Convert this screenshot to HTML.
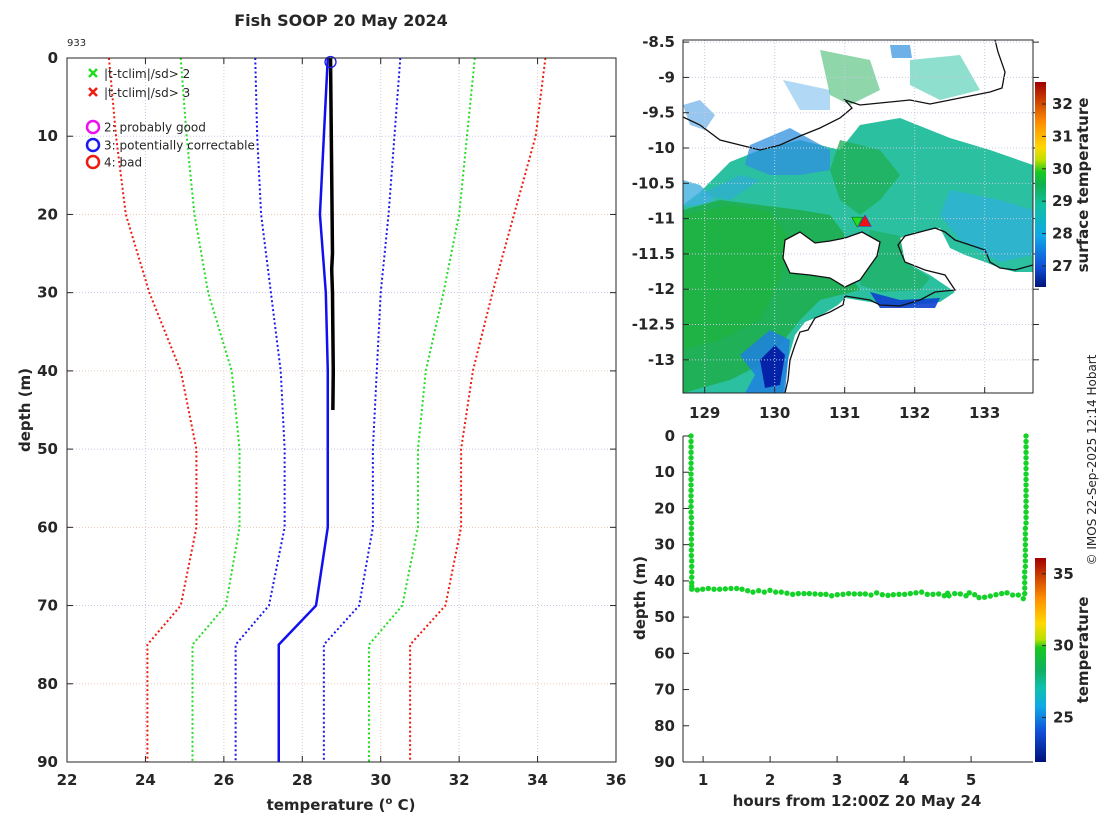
<!DOCTYPE html>
<html><head><meta charset="utf-8">
<style>
html,body{margin:0;padding:0;background:#fff;}
svg text{font-family:"DejaVu Sans","Liberation Sans",sans-serif;fill:#262626;}
.tk{font-weight:bold;font-size:15px;}
</style></head>
<body>
<svg id="fig" width="1100" height="820" viewBox="0 0 1100 820" xmlns="http://www.w3.org/2000/svg">
<defs>
<linearGradient id="jet" x1="0" y1="1" x2="0" y2="0">
<stop offset="0" stop-color="#00127a"/><stop offset="0.15" stop-color="#1050d8"/><stop offset="0.27" stop-color="#10a8e8"/>
<stop offset="0.36" stop-color="#10c0b0"/><stop offset="0.45" stop-color="#10b060"/><stop offset="0.56" stop-color="#18c820"/>
<stop offset="0.6" stop-color="#b8e000"/><stop offset="0.68" stop-color="#ffd800"/><stop offset="0.8" stop-color="#ff9000"/>
<stop offset="0.9" stop-color="#d04800"/><stop offset="1" stop-color="#a00000"/>
</linearGradient>
<linearGradient id="jet2" x1="0" y1="1" x2="0" y2="0">
<stop offset="0" stop-color="#00127a"/><stop offset="0.1" stop-color="#1050d8"/><stop offset="0.25" stop-color="#10a8e8"/>
<stop offset="0.4" stop-color="#10c0a0"/><stop offset="0.5" stop-color="#10b050"/><stop offset="0.56" stop-color="#18c820"/>
<stop offset="0.62" stop-color="#c0e000"/><stop offset="0.68" stop-color="#ffd800"/><stop offset="0.8" stop-color="#ff9000"/>
<stop offset="0.9" stop-color="#d04800"/><stop offset="1" stop-color="#a00000"/>
</linearGradient>
<clipPath id="mapclip"><rect x="683" y="40" width="350" height="353"/></clipPath>
</defs>
<text x="341" y="26" text-anchor="middle" font-weight="bold" font-size="16">Fish SOOP 20 May 2024</text>
<text x="67" y="46" font-size="10">933</text>
<g id="left"></g>
<g id="map"></g>
<g id="bottom"></g>
<text transform="translate(1096,460) rotate(-90)" text-anchor="middle" font-size="12">© IMOS 22-Sep-2025 12:14 Hobart</text>
</svg>
<script>
// ---- left profile data ----
const depthLevels = [0,10,20,30,40,50,60,70,75,90];
const redLow   = [23.07,23.25,23.5,24.1,24.9,25.3,25.3,24.9,24.05,24.05];
const greenLow = [24.9,25.05,25.25,25.6,26.2,26.4,26.4,26.05,25.2,25.2];
const blueLow  = [26.8,26.85,26.95,27.2,27.45,27.55,27.55,27.15,26.3,26.3];
const climMean = [28.65,28.55,28.45,28.6,28.65,28.65,28.65,28.35,27.4,27.4];
const blueHigh = [30.5,30.35,30.2,30.0,29.9,29.8,29.8,29.45,28.55,28.55];
const greenHigh= [32.4,32.2,32.0,31.6,31.15,30.95,30.95,30.55,29.7,29.7];
const redHigh  = [34.2,33.95,33.4,32.85,32.35,32.05,32.05,31.65,30.75,30.75];
const obsDepth = [0,5,10,15,20,25,27,30,35,40,45];
const obsTemp  = [28.72,28.73,28.74,28.75,28.76,28.77,28.75,28.77,28.78,28.79,28.78];
const xTicks = [22,24,26,28,30,32,34,36];
const yTicks = [0,10,20,30,40,50,60,70,80,90];
// ---- bottom trace data ----
const trHours = [0.82,0.82,0.82,0.82,0.82,0.82,0.82,0.82,0.82,0.82,0.82,0.82,0.82,0.82,0.82,0.825,0.825,0.825,0.825,0.825,0.825,0.825,0.825,0.83,0.83,0.83,0.83,0.83,0.83,0.83,
0.835,0.914,0.994,1.078,1.163,1.247,1.332,1.416,1.501,1.581,1.665,1.745,1.829,1.914,1.998,2.083,2.167,2.252,2.337,2.421,2.506,2.585,2.670,2.754,2.834,2.919,3.003,3.088,3.172,3.257,3.341,3.421,3.506,3.590,3.675,3.759,3.839,3.924,4.008,4.093,4.177,4.262,4.346,4.431,4.516,4.600,4.650,4.670,4.755,4.839,4.924,4.973,5.053,5.118,5.202,5.287,5.371,5.456,5.536,5.620,5.705,5.779,
5.80,5.80,5.80,5.80,5.80,5.81,5.81,5.81,5.81,5.81,5.81,5.81,5.81,5.82,5.82,5.82,5.82,5.82,5.82,5.82,5.82,5.82,5.82,5.82,5.82,5.82,5.82,5.82,5.82,5.82];
const trDepth = [0,1.5,3,4.5,6,7.5,9,10.5,12,13.5,15,16.5,18,19.5,21,22.5,24,25.5,27,28.5,30,31.5,33,34.5,36,37.5,39,40.5,41.5,42.3,
42.2,42.5,42.3,42.1,42.3,42.3,42.2,42.1,42.1,42.3,42.7,43.1,42.7,43.1,42.6,43.1,43.1,43.4,43.7,43.5,43.5,43.5,43.6,43.7,43.7,44.1,43.8,43.7,43.5,43.6,43.6,43.6,43.9,43.3,43.8,44.0,43.8,43.7,43.7,43.5,43.3,43.1,43.7,43.7,43.6,44.1,43.4,44.1,43.5,43.6,44.1,43.3,43.8,44.6,44.5,44.2,43.8,43.5,43.3,43.9,43.9,44.9,
43.5,42,40.5,39,37.5,36,34.5,33,31.5,30,28.5,27,25.5,24,22.5,21,19.5,18,16.5,15,13.5,12,10.5,9,7.5,6,4.5,3,1.5,0];
const hourTicks = [1,2,3,4,5];
const lonTicks = [129,130,131,132,133];
const latTicks = [-8.5,-9,-9.5,-10,-10.5,-11,-11.5,-12,-12.5,-13];
const sstTicks = [27,28,29,30,31,32];
const tTicks = [25,30,35];

const NS='http://www.w3.org/2000/svg';
function mk(parent,tag,attrs){const e=document.createElementNS(NS,tag);for(const k in attrs)e.setAttribute(k,attrs[k]);parent.appendChild(e);return e;}
function txt(parent,x,y,s,anchor,cls){const t=mk(parent,'text',{x:x,y:y,'text-anchor':anchor||'middle'});if(cls)t.setAttribute('class',cls);t.textContent=s;return t;}

// ===== left panel =====
const L=document.getElementById('left');
const lx=v=>67+(v-22)*(549/14), ly=d=>58+d*(704/90);
xTicks.forEach((v,i)=>{ if(v>22&&v<36){const g=mk(L,'line',{x1:lx(v),x2:lx(v),y1:58,y2:762,stroke:i%2?'#c8c8e8':'#e8c8b8','stroke-dasharray':'1,2','stroke-width':1});

}});
yTicks.forEach((v,i)=>{ if(v>0&&v<90){const g=mk(L,'line',{x1:67,x2:616,y1:ly(v),y2:ly(v),stroke:i%2?'#c8c8e8':'#e8c8b8','stroke-dasharray':'1,2','stroke-width':1});

}});
function series(arr,color,dash,w,name,dep){const dd=dep||depthLevels;const p=mk(L,'polyline',{points:arr.map((t,i)=>lx(t)+','+ly(dd[i])).join(' '),fill:'none',stroke:color,'stroke-width':w,'stroke-dasharray':dash||'none'});

}
series(redLow,'#ee1c10','2,2.5',2,'red-lower-3sd');
series(greenLow,'#22dd22','2,2.5',2,'green-lower-2sd');
series(blueLow,'#1a1aee','2,2.5',2,'blue-lower-1sd');
series(blueHigh,'#1a1aee','2,2.5',2,'blue-upper-1sd');
series(greenHigh,'#22dd22','2,2.5',2,'green-upper-2sd');
series(redHigh,'#ee1c10','2,2.5',2,'red-upper-3sd');
series(climMean,'#1010ee',null,2.5,'climatology-mean');
series(obsTemp,'#000',null,3.5,'observed-profile',obsDepth);
const qc=mk(L,'circle',{cx:lx(obsTemp[0]),cy:ly(0)+4,r:5.5,fill:'none',stroke:'#1a1aee','stroke-width':1.3});


const lb=mk(L,'rect',{x:67,y:58,width:549,height:704,fill:'none',stroke:'#262626','stroke-width':1});


xTicks.forEach(v=>{mk(L,'line',{x1:lx(v),x2:lx(v),y1:762,y2:756,stroke:'#262626'});mk(L,'line',{x1:lx(v),x2:lx(v),y1:58,y2:64,stroke:'#262626'});
const t=txt(L,lx(v),785,String(v),'middle','tk');

});
yTicks.forEach(v=>{mk(L,'line',{x1:67,x2:73,y1:ly(v),y2:ly(v),stroke:'#262626'});mk(L,'line',{x1:616,x2:610,y1:ly(v),y2:ly(v),stroke:'#262626'});
const t=txt(L,58,ly(v)+5,String(v),'end','tk');

});
let t1=txt(L,341,810,'','middle','tk');t1.innerHTML='temperature (<tspan dy="-6" font-size="10">o</tspan><tspan dy="6"> C)</tspan>';t1.setAttribute('font-size','16');


let t2=txt(L,0,0,'depth (m)','middle','tk');t2.setAttribute('transform','translate(30,410) rotate(-90)');t2.setAttribute('font-size','16');


// legend
const lg=mk(L,'g',{});


function xm(x,y,c){mk(lg,'path',{d:`M${x-4},${y-4}L${x+4},${y+4}M${x-4},${y+4}L${x+4},${y-4}`,stroke:c,'stroke-width':2.5});}
xm(93,73,'#22dd22');xm(93,92,'#ee1c10');
[[127,'#ee10ee','2: probably good'],[145,'#1a1aee','3: potentially correctable'],[162,'#ee1c10','4: bad']].forEach(r=>{mk(lg,'circle',{cx:93,cy:r[0],r:6,fill:'none',stroke:r[1],'stroke-width':2.5});const t=txt(lg,104,r[0]+4.5,r[2],'start');t.setAttribute('font-size','12');});
[[73,'|t-tclim|/sd> 2'],[92,'|t-tclim|/sd> 3']].forEach(r=>{const t=txt(lg,104,r[0]+5,r[1],'start');t.setAttribute('font-size','12');});

// ===== map panel =====
const M=document.getElementById('map');
const mx=lon=>683+(lon-128.69)*70, my=lat=>40+(-8.47-lat)*70.6;
const mg=mk(M,'g',{'clip-path':'url(#mapclip)'});


function poly(pts,fill,op){mk(mg,'polygon',{points:pts,fill:fill,opacity:op||1});}
poly('683,205 700,192 730,162 760,150 800,140 840,150 860,125 900,118 950,138 990,150 1033,165 1033,272 1015,272 1000,268 985,262 965,255 950,248 940,228 920,232 900,238 905,262 930,275 955,292 940,302 900,307 870,302 845,298 838,305 820,316 805,322 795,335 788,360 783,393 683,393','#2ac0a0');
poly('683,210 720,200 760,205 800,210 830,215 845,235 840,260 860,290 820,300 800,320 780,345 760,365 730,380 683,393','#20b058');
poly('683,215 730,205 770,212 790,240 780,280 760,320 720,340 683,350','#1fb344',0.9);
poly('840,140 880,150 900,175 880,200 860,215 840,200 830,170','#20b058',0.8);
poly('870,230 900,236 905,262 930,278 920,290 880,292 860,285','#20b068',0.8);
poly('683,180 700,185 715,200 700,205 683,206','#40b0e0',0.8);
poly('750,145 790,128 830,150 830,170 800,175 770,175 745,165','#3090e0',0.75);
poly('740,175 760,180 730,200 700,195','#30a8e0',0.6);
poly('950,190 1000,200 1033,210 1033,255 1000,262 960,240 940,215','#30b0e0',0.7);
poly('870,292 900,300 940,298 935,308 880,308','#1040d0',0.9);
poly('740,355 770,330 790,340 785,393 745,393 755,375','#2080e0',0.85);
poly('760,360 775,345 785,355 780,385 765,388','#0010a0',0.85);
poly('683,105 700,100 715,115 705,130 690,125','#3090e0',0.5);
poly('820,50 870,60 880,90 850,105 830,95','#20b058',0.5);
poly('910,60 960,55 980,90 940,100 910,85','#20c0a0',0.5);
poly('890,45 910,45 912,58 892,58','#3090e0',0.7);
poly('783,80 830,90 830,110 800,110','#2090e0',0.35);
// island (white)
poly('785,240 800,232 815,243 830,241 845,238 862,232 880,242 877,256 860,280 845,287 830,278 810,275 790,273 783,258','#fff');
mk(mg,'polygon',{points:'785,240 800,232 815,243 830,241 845,238 862,232 880,242 877,256 860,280 845,287 830,278 810,275 790,273 783,258',fill:'none',stroke:'#111','stroke-width':1.3});
mk(mg,'polyline',{points:'683,117 700,125 720,140 740,145 760,150 780,145 800,136 820,128 840,118 852,108 845,100 860,105 880,103 910,100 930,104 950,100 970,96 990,92 1002,88 1005,72 998,52 995,40',fill:'none',stroke:'#111','stroke-width':1.3});
mk(mg,'polyline',{points:'1033,265 1015,270 1000,268 990,262 985,250 970,245 955,240 945,232 935,228 920,232 905,236 898,245 905,262 925,270 945,275 955,290 935,292 920,300 900,306 880,305 870,300 845,296 843,305 830,312 815,318 808,330 800,332 795,345 790,360 788,380 785,393',fill:'none',stroke:'#111','stroke-width':1.3});
lonTicks.forEach(v=>{const g=mk(M,'line',{x1:mx(v),x2:mx(v),y1:40,y2:393,stroke:'#c8c8e0','stroke-dasharray':'1,2'});});
latTicks.forEach(v=>{const g=mk(M,'line',{x1:683,x2:1033,y1:my(v),y2:my(v),stroke:'#c8c8e0','stroke-dasharray':'1,2'});});
const tri1=mk(M,'polygon',{points:`${mx(131.1)},${my(-10.98)} ${mx(131.26)},${my(-10.98)} ${mx(131.18)},${my(-11.12)}`,fill:'#22dd22',stroke:'#116611','stroke-width':0.6});


const tri2=mk(M,'polygon',{points:`${mx(131.2)},${my(-11.11)} ${mx(131.38)},${my(-11.11)} ${mx(131.29)},${my(-10.95)}`,fill:'#ee1111',stroke:'#3333cc','stroke-width':0.6});


const mf=mk(M,'rect',{x:683,y:40,width:350,height:353,fill:'none',stroke:'#262626'});


lonTicks.forEach(v=>{mk(M,'line',{x1:mx(v),x2:mx(v),y1:393,y2:387,stroke:'#262626'});const t=txt(M,mx(v),418,String(v),'middle','tk');

});
latTicks.forEach(v=>{mk(M,'line',{x1:683,x2:689,y1:my(v),y2:my(v),stroke:'#262626'});mk(M,'line',{x1:1033,x2:1039,y1:my(v),y2:my(v),stroke:'#262626'});const t=txt(M,675,my(v)+5,String(v),'end','tk');

});
const cb1y=v=>287-(v-26.35)*(205/6.33);
const cb1=mk(M,'rect',{x:1035,y:82,width:11,height:205,fill:'url(#jet2)'});


sstTicks.forEach(v=>{mk(M,'line',{x1:1046,x2:1042,y1:cb1y(v),y2:cb1y(v),stroke:'#262626'});const t=txt(M,1052,cb1y(v)+5,String(v),'start','tk');t.setAttribute('font-size','13');

});
let t3=txt(M,0,0,'surface temperature','middle','tk');t3.setAttribute('transform','translate(1088,185) rotate(-90)');t3.setAttribute('font-size','13');



// ===== bottom panel =====
const B=document.getElementById('bottom');
const bx=h=>683+(h-0.7)*67, by=d=>436+d*(326/90);
trHours.forEach((h,i)=>{const c=mk(B,'circle',{cx:bx(h),cy:by(trDepth[i]),r:2.7,fill:'#14d228'});

});
mk(B,'line',{x1:683,x2:683,y1:436,y2:762,stroke:'#262626'});
mk(B,'line',{x1:683,x2:1033,y1:762,y2:762,stroke:'#262626'});
hourTicks.forEach(v=>{mk(B,'line',{x1:bx(v),x2:bx(v),y1:762,y2:756,stroke:'#262626'});const t=txt(B,bx(v),785,String(v),'middle','tk');

});
yTicks.forEach(v=>{mk(B,'line',{x1:683,x2:689,y1:by(v),y2:by(v),stroke:'#262626'});const t=txt(B,675,by(v)+5,String(v),'end','tk');

});
let t4=txt(B,857,806,'hours from 12:00Z 20 May 24','middle','tk');t4.setAttribute('font-size','15');


let t5=txt(B,0,0,'depth (m)','middle','tk');t5.setAttribute('transform','translate(645,598) rotate(-90)');t5.setAttribute('font-size','16');


const cb2y=v=>762-(v-21.9)*(204/14.2);
const cb2=mk(B,'rect',{x:1035,y:558,width:11,height:204,fill:'url(#jet)'});


tTicks.forEach(v=>{mk(B,'line',{x1:1046,x2:1042,y1:cb2y(v),y2:cb2y(v),stroke:'#262626'});const t=txt(B,1053,cb2y(v)+5,String(v),'start','tk');t.setAttribute('font-size','13');

});
let t6=txt(B,0,0,'temperature','middle','tk');t6.setAttribute('transform','translate(1088,650) rotate(-90)');t6.setAttribute('font-size','13');


</script>
</body></html>
